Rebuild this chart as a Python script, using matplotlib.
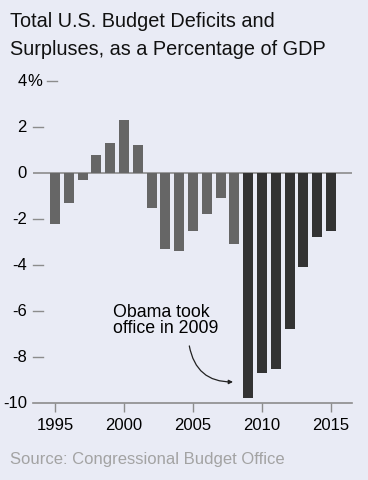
import matplotlib
matplotlib.use("Agg")
import matplotlib.pyplot as plt
import matplotlib.transforms as mtransforms
import numpy as np

plt.rcParams.update({"font.family": ["Liberation Sans", "DejaVu Sans"]})

years = np.arange(1995, 2016)
deficit = [-2.2, -1.3, -0.3, 0.8, 1.3, 2.3, 1.2, -1.5, -3.3, -3.4, -2.5,
           -1.8, -1.1, -3.1, -9.8, -8.7, -8.5, -6.8, -4.1, -2.8, -2.5]
ytick_vals = [4, 2, 0, -2, -4, -6, -8, -10]
xtick_vals = [1995, 2000, 2005, 2010, 2015]
note_lines = ['Obama took', 'office in 2009']

bg = '#e9ebf5'
light = '#666666'
dark = '#333333'
axis_col = '#8c8c8c'

fig = plt.figure(figsize=(3.68, 4.80), dpi=100, facecolor=bg)
ax = fig.add_axes([33/368, 77/480, 319/368, 331.2/480], facecolor=bg)

colors = [dark if y >= 2009 else light for y in years]
ax.bar(years, deficit, width=0.72, color=colors, zorder=2)

ax.set_xlim(1995 - 22/13.8, 1995 + 297/13.8)
ax.set_ylim(-10, 4.4)
ax.axhline(0, color=axis_col, lw=1.2, zorder=1)

for s in ['top', 'right', 'left']:
    ax.spines[s].set_visible(False)
ax.spines['bottom'].set_color(axis_col)
ax.spines['bottom'].set_linewidth(1.2)

ax.set_xticks(xtick_vals)
ax.set_xticklabels([str(x) for x in xtick_vals], fontsize=12)
ax.tick_params(axis='x', length=6.5, width=1, color=axis_col, pad=4)
ax.set_yticks([])

# y labels with dash marks
trans = mtransforms.blended_transform_factory(ax.transAxes, ax.transData)
for v in ytick_vals:
    lab = str(v) if v >= 0 else '-' + str(abs(v))
    ax.text(-6/319, v, lab, transform=trans, ha='right', va='center', fontsize=12)
    if v == 4:
        ax.text(-6/319, v, '%', transform=trans, ha='left', va='center', fontsize=12)
        ax.plot([14/319, 24/319], [v, v], transform=trans, color=axis_col, lw=1, clip_on=False)
    elif v not in (0, -10):
        ax.plot([0, 10/319], [v, v], transform=trans, color=axis_col, lw=1, clip_on=False)

# annotation
for i, line in enumerate(note_lines):
    ax.text(1999.18, -6.25 - 0.70 * i, line, ha='left', va='baseline', fontsize=12.8)
ax.annotate('', xy=(2008.1, -9.08), xytext=(2004.7, -7.4),
            arrowprops=dict(arrowstyle='-|>', color='#222222', lw=0.9,
                            mutation_scale=6,
                            connectionstyle='arc3,rad=0.45'))

fig.text(10/368, 1 - 27/480, 'Total U.S. Budget Deficits and', fontsize=14.3,
         va='baseline', ha='left', color='#111111')
fig.text(10/368, 1 - 55/480, 'Surpluses, as a Percentage of GDP', fontsize=14.3,
         va='baseline', ha='left', color='#111111')
fig.text(10/368, 1 - 464/480, 'Source: Congressional Budget Office', fontsize=12,
         color='#a3a3a3', va='baseline', ha='left')

fig.savefig('out.png', dpi=100, facecolor=bg)
